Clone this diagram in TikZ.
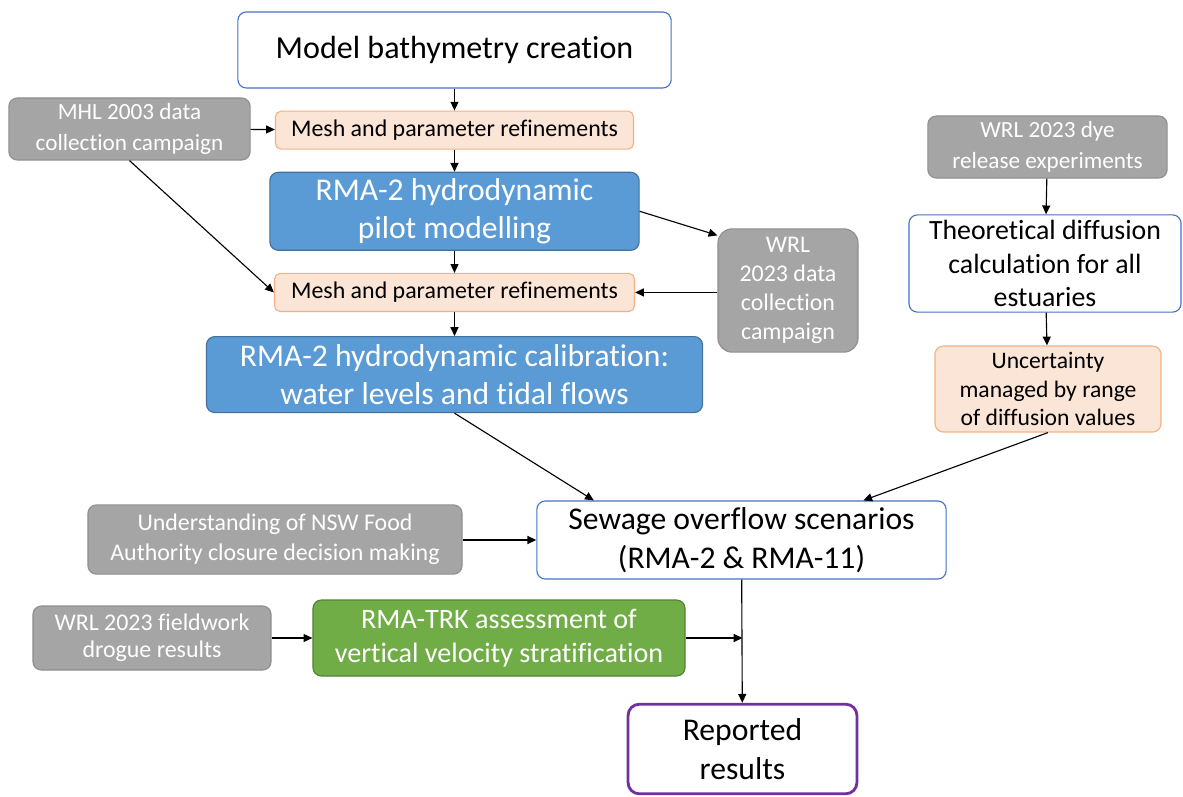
\documentclass[tikz,border=0pt]{standalone}
\usepackage{fontspec}
\setmainfont{Carlito}[Ligatures=CommonOff]
\usetikzlibrary{arrows.meta,positioning}
\definecolor{boxblue}{HTML}{4472C4}
\definecolor{fillblue}{HTML}{5B9BD5}
\definecolor{edgeblue}{HTML}{41719C}
\definecolor{fillgrey}{HTML}{A5A5A5}
\definecolor{edgegrey}{HTML}{8F8F8F}
\definecolor{fillpeach}{HTML}{FBE5D6}
\definecolor{edgepeach}{HTML}{F4B183}
\definecolor{fillgreen}{HTML}{70AD47}
\definecolor{edgegreen}{HTML}{548235}
\definecolor{edgepurple}{HTML}{7030A0}
\newcommand{\bigtxt}{\fontsize{22.5}{27.5}\selectfont}
\newcommand{\midtxt}{\fontsize{16.5}{22}\selectfont}
\begin{document}
\begin{tikzpicture}[
        x=0.025cm, y=-0.025cm,
        whitebox/.style={draw=boxblue, fill=white, line width=0.8pt, rounded corners=6pt, align=center, inner sep=0pt, font=\bigtxt},
        bluebox/.style={draw=edgeblue, fill=fillblue, line width=0.8pt, rounded corners=6pt, align=center, inner sep=0pt, text=white, font=\bigtxt},
        greybox/.style={draw=edgegrey, fill=fillgrey, line width=0.8pt, rounded corners=6pt, align=center, inner sep=0pt, text=white, font=\midtxt},
        peachbox/.style={draw=edgepeach, fill=fillpeach, line width=0.8pt, rounded corners=4pt, align=center, inner sep=0pt, font=\fontsize{17}{21}\selectfont},
        arr/.style={-{Triangle[length=2.2mm,width=2mm]}, line width=0.8pt}
      ]
        \useasboundingbox (0,0) rectangle (1183,796);
        % main chain
        \node[whitebox, minimum width=10.83cm, minimum height=1.9cm] (bath) at (454.5,50) {\fontsize{22.8}{28}\selectfont Model bathymetry creation};
        \node[peachbox, minimum width=8.95cm, minimum height=0.95cm, below=0.55cm of bath] (mesha) {Mesh and parameter refinements};
        \node[bluebox, minimum width=9.23cm, minimum height=1.95cm, below=0.55cm of mesha] (pilot) {RMA-2 hydrodynamic\\pilot modelling};
        \node[peachbox, minimum width=9.0cm, minimum height=0.95cm, below=0.55cm of pilot] (meshb) {Mesh and parameter refinements};
        \node[bluebox, minimum width=12.4cm, minimum height=1.9cm, below=0.6cm of meshb] (calib) {RMA-2 hydrodynamic calibration:\\water levels and tidal flows};
        % data inputs
        \node[greybox, minimum width=6.03cm, minimum height=1.55cm] (mhl) at (129.5,129) {MHL 2003 data\\collection campaign};
        \node[greybox, rounded corners=10pt, minimum width=3.5cm, minimum height=3.08cm, font=\fontsize{17}{20.5}\selectfont] (wrldata) at (788,290.5) {WRL\\2023 data\\collection\\campaign};
        \node[greybox, minimum width=5.98cm, minimum height=1.55cm] (dye) at (1047.5,147) {WRL 2023 dye\\release experiments};
        \node[whitebox, minimum width=6.8cm, minimum height=2.43cm, font=\fontsize{19.8}{24}\selectfont] (theo) at (1045,263.5) {Theoretical diffusion\\calculation for all\\estuaries};
        \node[peachbox, rounded corners=6pt, minimum width=5.65cm, minimum height=2.15cm, font=\fontsize{16.8}{20}\selectfont] (unc) at (1048,389) {Uncertainty\\managed by range\\of diffusion values};
        % scenarios and results
        \node[whitebox, minimum width=10.23cm, minimum height=1.95cm] (sew) at (741.5,540) {Sewage overflow scenarios\\(RMA-2 \& RMA-11)};
        \node[greybox, minimum width=9.35cm, minimum height=1.73cm, font=\fontsize{17}{21}\selectfont] (nsw) at (275,539.5) {Understanding of NSW Food\\Authority closure decision making};
        \node[greybox, minimum width=5.95cm, minimum height=1.6cm, font=\fontsize{17}{19.5}\selectfont] (drogue) at (152,638) {WRL 2023 fieldwork\\drogue results};
        \node[bluebox, draw=edgegreen, fill=fillgreen, minimum width=9.3cm, minimum height=1.9cm, font=\fontsize{20}{24}\selectfont] (trk) at (499,638) {RMA-TRK assessment of\\vertical velocity stratification};
        \node[whitebox, draw=edgepurple, line width=2pt, rounded corners=8pt, minimum width=5.72cm, minimum height=2.24cm] (rep) at (742.5,749) {Reported\\results};
        \coordinate (join) at (rep.north |- trk.east);
        % connectors
        \draw[arr] (bath) -- (mesha);
        \draw[arr] (mhl) -- (mesha);
        \draw[arr] (mesha) -- (pilot);
        \draw[arr] (mhl.south) -- (meshb.west);
        \draw[arr] (pilot.east) -- (wrldata.142);
        \draw[arr] (pilot) -- (meshb);
        \draw[arr] (wrldata.west |- meshb.east) -- (meshb.east);
        \draw[arr] (meshb) -- (calib);
        \draw[arr] (calib.south) -- (sew.165);
        \draw[arr] (dye) -- (theo);
        \draw[arr] (theo) -- (unc);
        \draw[arr] (unc.south) -- (sew.18);
        \draw[arr] (nsw.east |- sew.west) -- (sew.west);
        \draw[arr] (sew) -- (rep);
        \draw[arr] (drogue) -- (trk);
        \draw[arr] (trk.east) -- (join);
      \end{tikzpicture}
\end{document}
